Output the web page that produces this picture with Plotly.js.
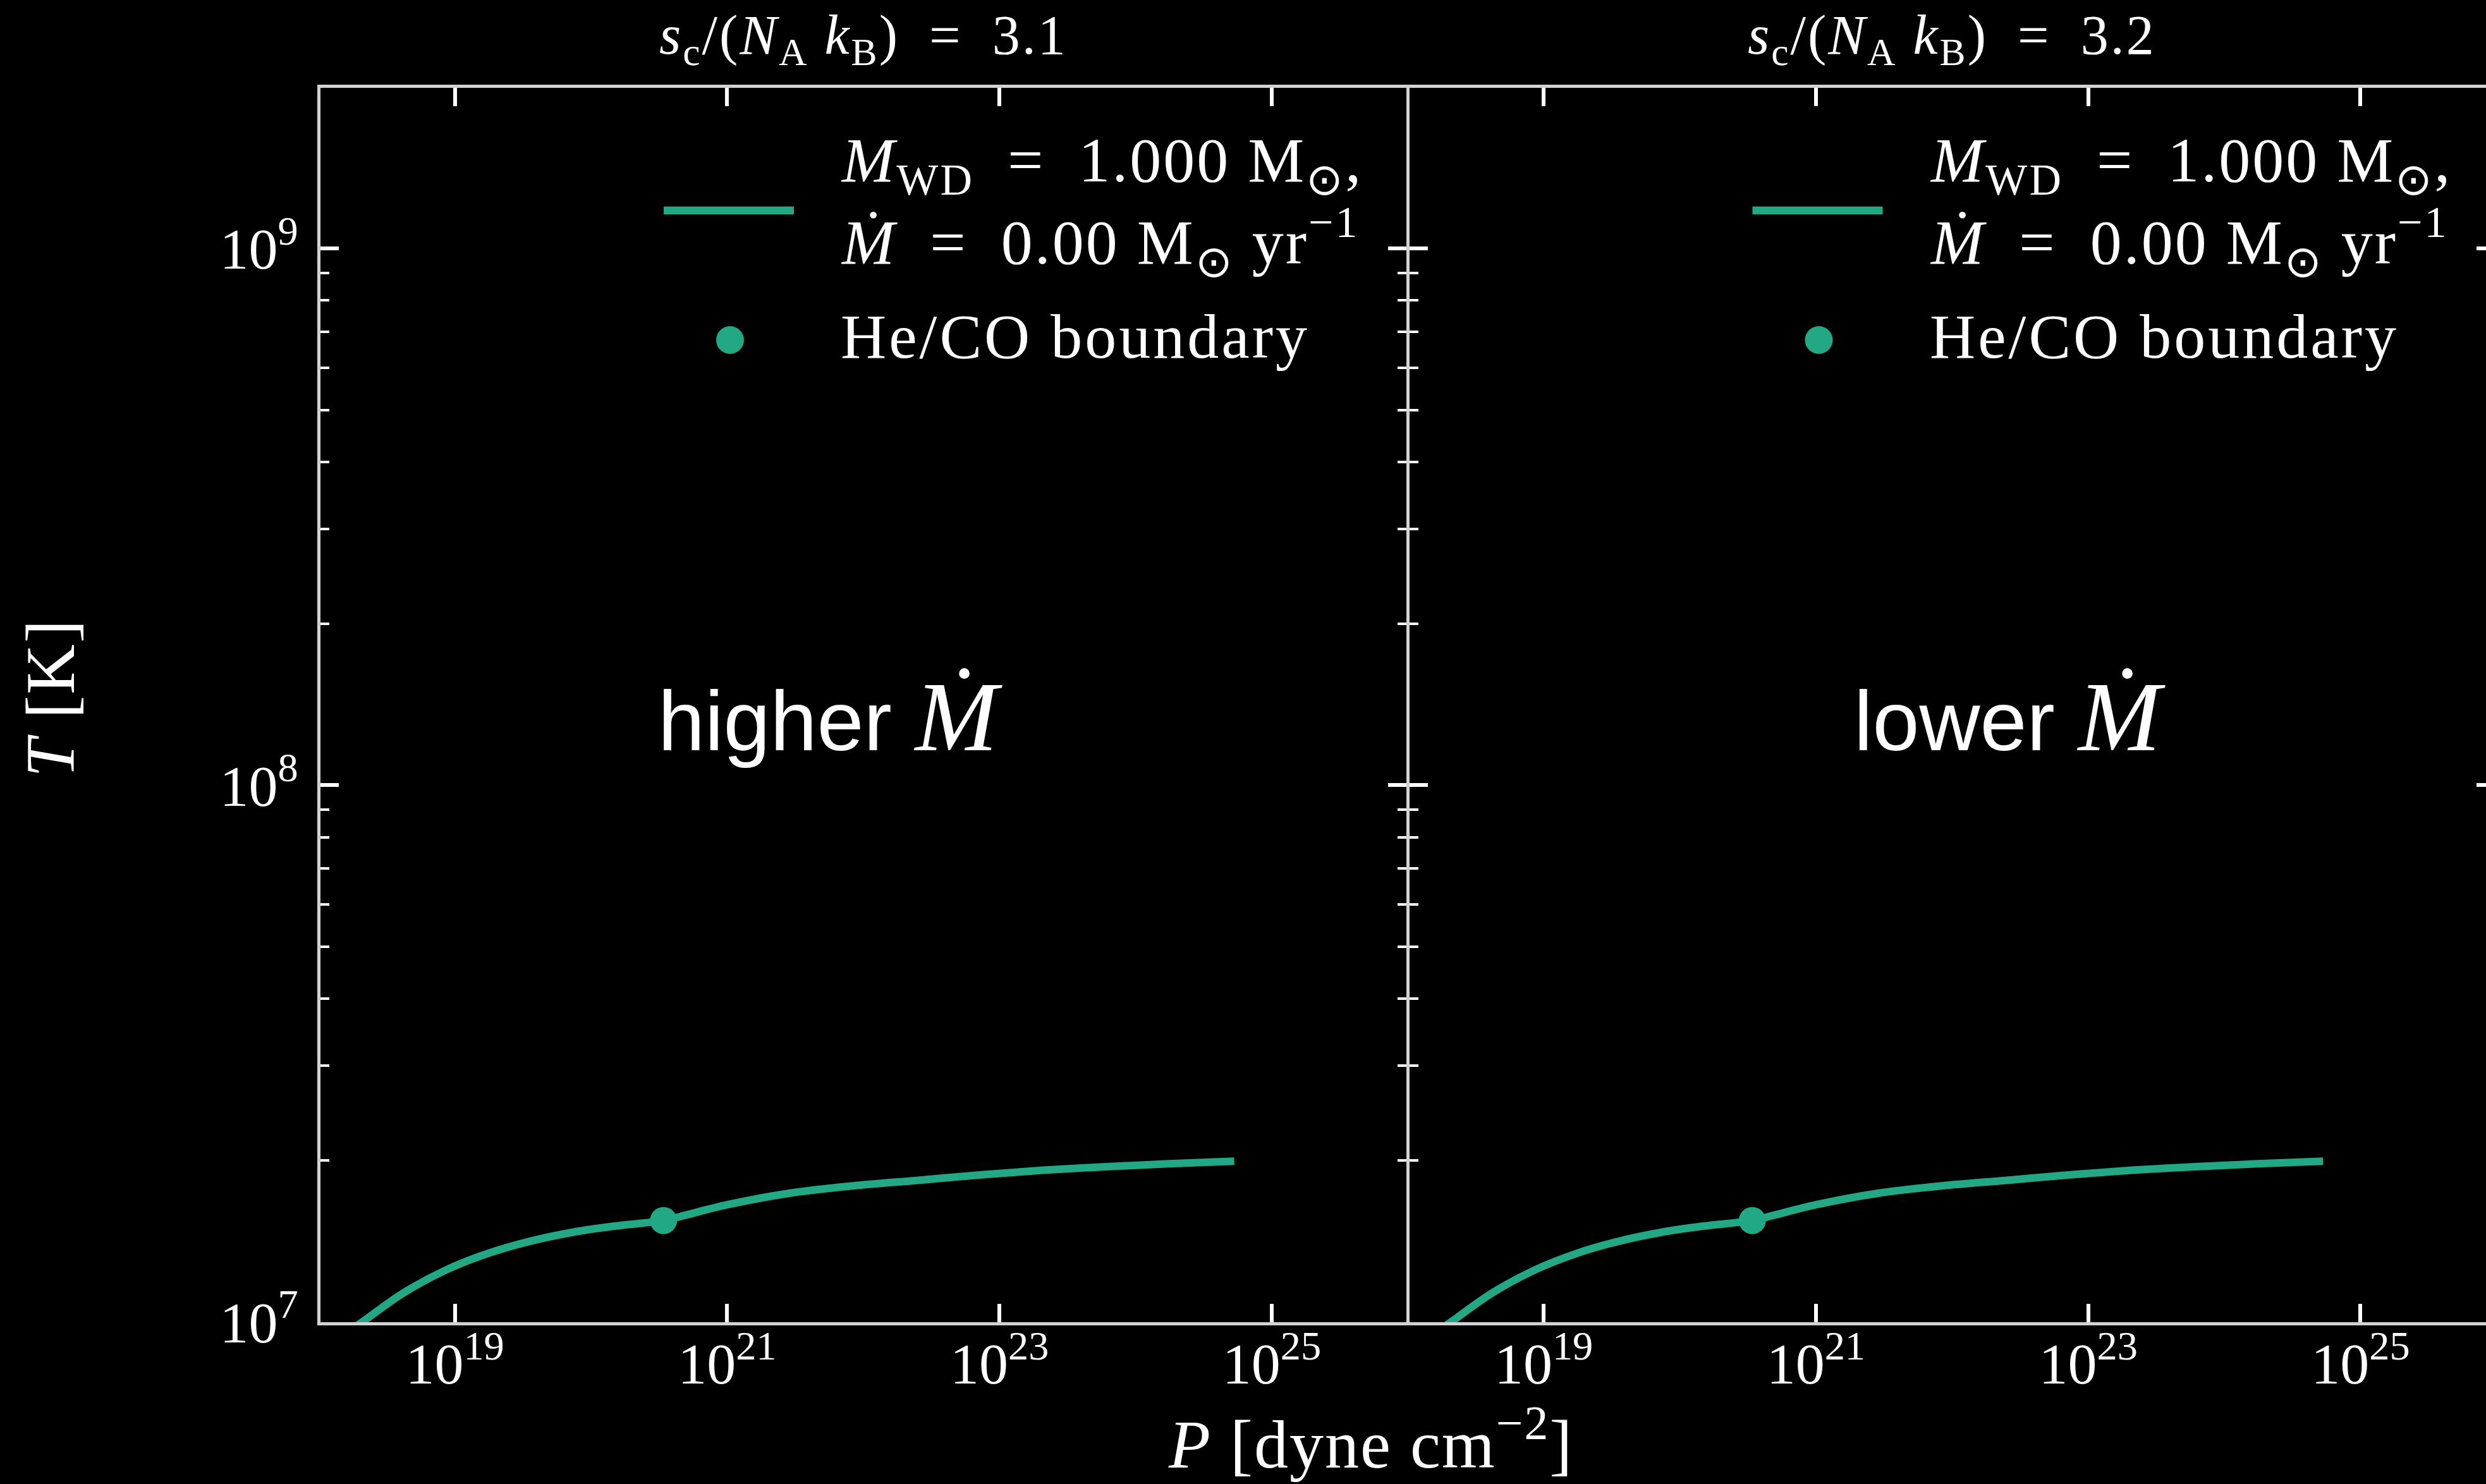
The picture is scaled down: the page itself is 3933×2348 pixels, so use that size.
<!DOCTYPE html>
<html>
<head>
<meta charset="utf-8">
<script src="https://cdn.plot.ly/plotly-3.0.1.min.js"></script>
<style>
html,body{margin:0;padding:0;background:#000;overflow:hidden;}
#wrap{width:3933px;height:2348px;overflow:hidden;position:relative;background:#000;}
#plot{width:3960px;height:2348px;}
</style>
</head>
<body>
<div id="wrap"><div id="plot"></div></div>
<script>
// ---- data ----
const curvePressure = [1.585e18, 2.056e18, 4.18e18, 8.51e18, 1.738e19, 3.54e19, 7.21e19, 1.472e20, 3.41e20, 4.90e20, 1.0e21, 2.91e21, 8.47e21, 2.466e22, 7.18e22, 2.089e23, 6.08e23, 1.770e24, 5.31e24];
const curveTemperature = [9.53e6, 9.97e6, 1.132e7, 1.248e7, 1.341e7, 1.413e7, 1.468e7, 1.508e7, 1.545e7, 1.580e7, 1.653e7, 1.738e7, 1.793e7, 1.835e7, 1.879e7, 1.917e7, 1.946e7, 1.971e7, 1.993e7];
const boundaryPressure = [3.41e20];
const boundaryTemperature = [1.545e7];
const entropyValues = [3.1, 3.2];
const panelLabels = ['higher', 'lower'];
const wdMass = '1.000';
const accretionRate = '0.00';
const xTickVals = [1e19, 1e21, 1e23, 1e25];
const xTickText = ['10<sup>19</sup>', '10<sup>21</sup>', '10<sup>23</sup>', '10<sup>25</sup>'];
const yTickVals = [1e7, 1e8, 1e9];
const yTickText = ['10<sup>7</sup>', '10<sup>8</sup>', '10<sup>9</sup>'];
const yMinorVals = [2e7, 3e7, 4e7, 5e7, 6e7, 7e7, 8e7, 9e7, 2e8, 3e8, 4e8, 5e8, 6e8, 7e8, 8e8, 9e8];

// ---- style / geometry ----
const GREEN = '#22a884';
const SERIF = 'Liberation Serif, Times New Roman, serif';
const SANS = 'Liberation Sans, Arial, sans-serif';
const MDOT = '\u1E40';
const W = 3960, H = 2348;
const M = {l: 507, r: 13, t: 139, b: 256};
const PLOT_W = W - M.l - M.r;           // 3440
const GAP = 5;                            // spines of the two panels coincide
const PANEL_W = (PLOT_W - GAP) / 2;
const PLOT_H = H - M.t - M.b;
const PLOT_BOTTOM = H - M.b;
// pixel position in the left panel -> fraction of a panel domain
function fx(px) { return (px - M.l) / PANEL_W; }
function fy(py) { return (PLOT_BOTTOM - py) / PLOT_H; }
function px2paper(px) { return (px - M.l) / PLOT_W; }

const LS = 'letter-spacing:3px';

function xAxis(domain, anchor) {
  return {
    type: 'log', domain: domain, anchor: anchor, range: [18.013, 25.987],
    tickmode: 'array', tickvals: xTickVals, ticktext: xTickText,
    ticks: 'inside', ticklen: 29, tickwidth: 6, tickcolor: '#ffffff',
    showline: true, linecolor: '#d2d2d2', linewidth: 5, mirror: 'ticks',
    showgrid: false, zeroline: false,
    tickfont: {family: SERIF, size: 92, color: '#ffffff'},
    ticklabelstandoff: -18
  };
}
function yAxis(anchor, showLabels) {
  const ax = {
    type: 'log', anchor: anchor, domain: [0, 1], range: [6.9995, 9.2992],
    tickmode: 'array', tickvals: yTickVals, ticktext: yTickText,
    ticks: 'inside', ticklen: 29, tickwidth: 6, tickcolor: '#ffffff',
    minor: {tickmode: 'array', tickvals: yMinorVals, ticks: 'inside', ticklen: 14, tickwidth: 4, tickcolor: '#ffffff', showgrid: false},
    showline: true, linecolor: '#d2d2d2', linewidth: 5, mirror: 'ticks',
    showgrid: false, zeroline: false, showticklabels: showLabels,
    tickfont: {family: SERIF, size: 92, color: '#ffffff'},
    ticklabelstandoff: 12
  };
  if (!showLabels) ax.matches = 'y';
  return ax;
}

const traces = [];
const annotations = [];
const shapes = [];
const axisIds = [['x', 'y'], ['x2', 'y2']];

axisIds.forEach(function (ids, i) {
  traces.push({
    type: 'scatter', mode: 'lines', x: curvePressure, y: curveTemperature,
    xaxis: ids[0], yaxis: ids[1], showlegend: false, hoverinfo: 'skip',
    line: {color: GREEN, width: 12, shape: 'spline', smoothing: 1}
  });
  traces.push({
    type: 'scatter', mode: 'markers', x: boundaryPressure, y: boundaryTemperature,
    xaxis: ids[0], yaxis: ids[1], showlegend: false, hoverinfo: 'skip',
    marker: {color: GREEN, size: 43, line: {width: 0}}
  });
  const xr = ids[0] + ' domain', yr = ids[1] + ' domain';
  // panel title
  annotations.push({
    xref: xr, yref: yr, x: 0.5, y: fy(61), xanchor: 'center', yanchor: 'middle', showarrow: false,
    text: '<span style="' + LS + '"><i>s</i><sub>c</sub>/(<i>N</i><sub>A</sub> <i>k</i><sub>B</sub>)\u2002=\u2002' + entropyValues[i].toFixed(1) + '</span>',
    font: {family: SERIF, size: 88, color: '#ffffff'}
  });
  // legend entries (drawn manually to keep matplotlib proportions)
  annotations.push({
    xref: xr, yref: yr, x: fx(1328), y: fy(325), xanchor: 'left', yanchor: 'middle', align: 'left', showarrow: false,
    text: '<span style="' + LS + '"><i>M</i><sub>WD</sub>\u2002=\u2002' + wdMass + ' M<sub>\u2299</sub>,</span><br><span style="' + LS + '"><i>' + MDOT + '</i>\u2002=\u2002' + accretionRate + ' M<sub>\u2299</sub> yr<sup>\u22121</sup></span>',
    font: {family: SERIF, size: 100, color: '#ffffff'}
  });
  annotations.push({
    xref: xr, yref: yr, x: fx(1328), y: fy(532), xanchor: 'left', yanchor: 'middle', align: 'left', showarrow: false,
    text: '<span style="letter-spacing:4px">He/CO boundary</span>',
    font: {family: SERIF, size: 100, color: '#ffffff'}
  });
  shapes.push({
    type: 'line', xref: xr, yref: yr, x0: fx(1050), x1: fx(1256), y0: fy(333), y1: fy(333),
    line: {color: GREEN, width: 12.7}
  });
  shapes.push({
    type: 'circle', xref: xr, yref: yr, xsizemode: 'pixel', ysizemode: 'pixel',
    xanchor: fx(1155), yanchor: fy(538), x0: -22, x1: 22, y0: -22, y1: 22,
    fillcolor: GREEN, line: {width: 0}
  });
  // panel label
  annotations.push({
    xref: xr, yref: yr, x: i === 0 ? 0.3098 : 0.4084, y: fy(1134), xanchor: 'left', yanchor: 'middle', showarrow: false,
    text: panelLabels[i] + ' <span style="font-family:\'Liberation Serif\';font-style:italic;font-size:157px">' + MDOT + '</span>',
    font: {family: SANS, size: 133, color: '#ffffff'}
  });
});

// shared axis titles
annotations.push({
  xref: 'paper', yref: 'paper', x: px2paper(2168), y: fy(2277), xanchor: 'center', yanchor: 'middle', showarrow: false,
  text: '<span style="letter-spacing:2px"><i>P</i> [dyne cm<sup>\u22122</sup>]</span>',
  font: {family: SERIF, size: 108, color: '#ffffff'}
});
annotations.push({
  xref: 'paper', yref: 'paper', x: px2paper(80), y: fy(1105), xanchor: 'center', yanchor: 'middle', showarrow: false,
  textangle: -90,
  text: '<span style="letter-spacing:2px"><i>T</i> [K]</span>',
  font: {family: SERIF, size: 110, color: '#ffffff'}
});

const layout = {
  width: W, height: H,
  margin: M,
  paper_bgcolor: '#000000', plot_bgcolor: '#000000',
  font: {family: SERIF, color: '#ffffff'},
  showlegend: false,
  xaxis: xAxis([0, PANEL_W / PLOT_W], 'y'),
  xaxis2: xAxis([(PANEL_W + GAP) / PLOT_W, 1], 'y2'),
  yaxis: yAxis('x', true),
  yaxis2: yAxis('x2', false),
  annotations: annotations,
  shapes: shapes
};

Plotly.newPlot('plot', traces, layout, {staticPlot: true, displayModeBar: false});
</script>
</body>
</html>
